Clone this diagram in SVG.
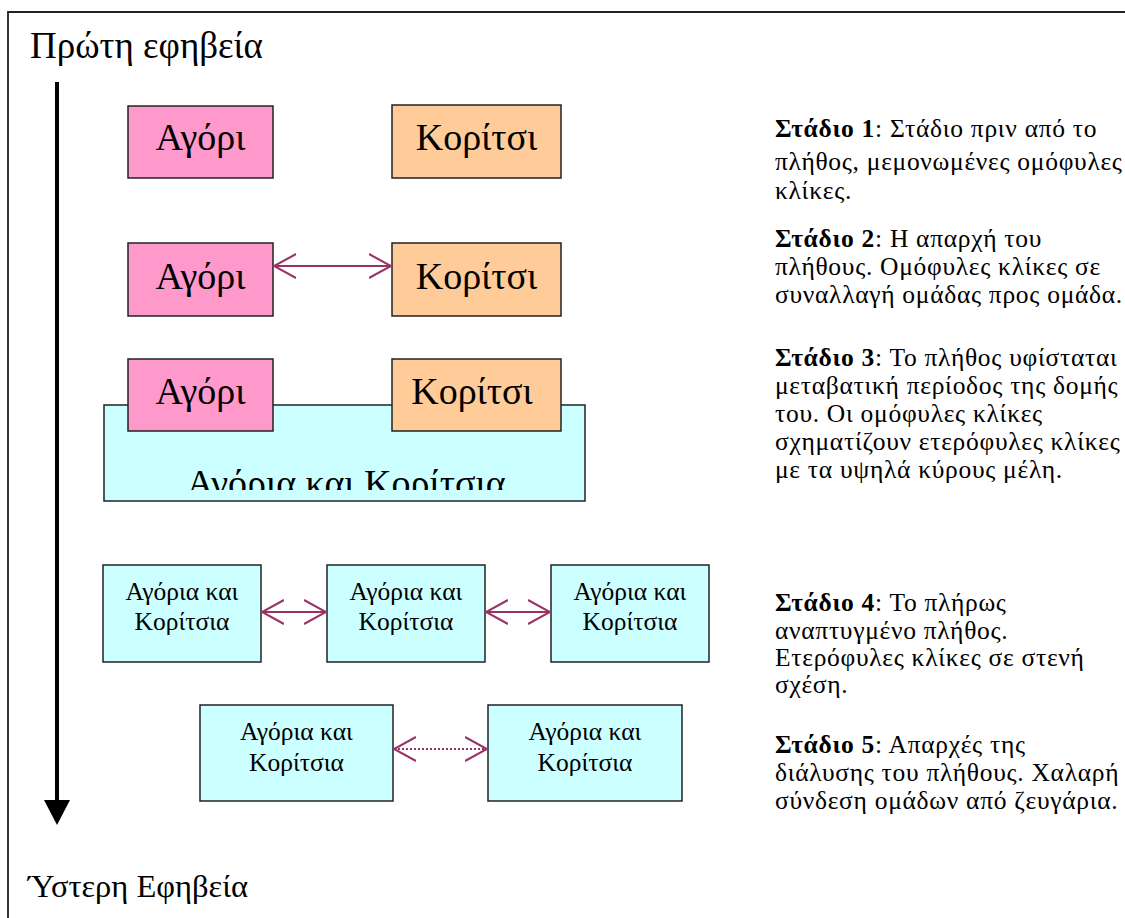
<svg xmlns="http://www.w3.org/2000/svg" width="1125" height="918" viewBox="0 0 1125 918">
<style>
  text { font-family: "Liberation Serif", "Times New Roman", serif; fill: #000; }
  .big { font-size: 38px; }
  .mid { font-size: 25.5px; }
  .desc { font-size: 25.5px; letter-spacing: 0.7px; }
  .b { font-weight: bold; }
  .box { stroke: #222; stroke-width: 1.5; }
  .boy { fill: #FF99CC; }
  .girl { fill: #FFCC99; }
  .mix { fill: #CCFFFF; }
  .conn { stroke: #993366; stroke-width: 2; fill: none; }
</style>
<defs>
  <marker id="chev" viewBox="0 0 24 26" refX="22" refY="13" markerWidth="24" markerHeight="26" markerUnits="userSpaceOnUse" orient="auto-start-reverse">
    <path d="M0,1 L22,13 L0,25" fill="none" stroke="#993366" stroke-width="2"/>
  </marker>
  <clipPath id="clip3"><rect x="104" y="405" width="481" height="85"/></clipPath>
</defs>
<rect x="0" y="0" width="1125" height="918" fill="#fff"/>
<g id="frame">
  <path d="M8,918 L8,12 L1125,12" fill="none" stroke="#222" stroke-width="1.8"/>
</g>
<g id="title-top"><text x="30" y="58" style="font-size:37px">Πρώτη εφηβεία</text></g>
<g id="title-bottom"><text x="28" y="897" style="font-size:32.5px">Ύστερη Εφηβεία</text></g>
<g id="timeline">
  <line x1="57" y1="82" x2="57" y2="801" stroke="#000" stroke-width="4"/>
  <polygon points="44,800 70,800 57,825" fill="#000"/>
</g>

<g id="s1-boy"><rect class="box boy" x="128" y="106" width="145" height="72"/><text class="big" x="200.5" y="150" text-anchor="middle">Αγόρι</text></g>
<g id="s1-girl"><rect class="box girl" x="392" y="105" width="169" height="73"/><text class="big" x="476.5" y="150" text-anchor="middle">Κορίτσι</text></g>

<g id="s2-boy"><rect class="box boy" x="128" y="243" width="145" height="73"/><text class="big" x="200.5" y="289" text-anchor="middle">Αγόρι</text></g>
<g id="s2-girl"><rect class="box girl" x="392" y="243" width="169" height="73"/><text class="big" x="476.5" y="289" text-anchor="middle">Κορίτσι</text></g>

<g id="s3-group"><rect class="box mix" x="104" y="405" width="481" height="96"/><text class="big" x="346" y="496" text-anchor="middle" clip-path="url(#clip3)">Αγόρια και Κορίτσια</text></g>
<g id="s3-boy"><rect class="box boy" x="128" y="359" width="145" height="72"/><text class="big" x="200.5" y="404" text-anchor="middle">Αγόρι</text></g>
<g id="s3-girl"><rect class="box girl" x="392" y="359" width="169" height="72"/><text class="big" x="472" y="404" text-anchor="middle">Κορίτσι</text></g>

<g id="s4-a"><rect class="box mix" x="103" y="565" width="158" height="97"/><text class="mid" x="182" y="600" text-anchor="middle">Αγόρια και</text><text class="mid" x="182" y="630" text-anchor="middle">Κορίτσια</text></g>
<g id="s4-b"><rect class="box mix" x="327" y="565" width="158" height="97"/><text class="mid" x="406" y="600" text-anchor="middle">Αγόρια και</text><text class="mid" x="406" y="630" text-anchor="middle">Κορίτσια</text></g>
<g id="s4-c"><rect class="box mix" x="551" y="565" width="158" height="97"/><text class="mid" x="630" y="600" text-anchor="middle">Αγόρια και</text><text class="mid" x="630" y="630" text-anchor="middle">Κορίτσια</text></g>

<g id="s5-a"><rect class="box mix" x="200" y="705" width="193" height="96"/><text class="mid" x="296.5" y="740" text-anchor="middle">Αγόρια και</text><text class="mid" x="296.5" y="771" text-anchor="middle">Κορίτσια</text></g>
<g id="s5-b"><rect class="box mix" x="488" y="705" width="194" height="96"/><text class="mid" x="585" y="740" text-anchor="middle">Αγόρια και</text><text class="mid" x="585" y="771" text-anchor="middle">Κορίτσια</text></g>

<g id="connectors">
  <line class="conn" x1="274" y1="266" x2="391" y2="266" marker-start="url(#chev)" marker-end="url(#chev)"/>
  <line class="conn" x1="262" y1="612" x2="326" y2="612" marker-start="url(#chev)" marker-end="url(#chev)"/>
  <line class="conn" x1="486" y1="612" x2="550" y2="612" marker-start="url(#chev)" marker-end="url(#chev)"/>
  <line class="conn" x1="394" y1="749" x2="487" y2="749" stroke-dasharray="2,2" marker-start="url(#chev)" marker-end="url(#chev)"/>
</g>

<g id="stage-notes">
  <text class="desc" x="775" y="137"><tspan class="b">Στάδιο 1</tspan>: Στάδιο πριν από το</text>
  <text class="desc" x="775" y="170">πλήθος, μεμονωμένες ομόφυλες</text>
  <text class="desc" x="775" y="199">κλίκες.</text>

  <text class="desc" x="775" y="247"><tspan class="b">Στάδιο 2</tspan>: Η απαρχή του</text>
  <text class="desc" x="775" y="275">πλήθους. Ομόφυλες κλίκες σε</text>
  <text class="desc" x="775" y="303">συναλλαγή ομάδας προς ομάδα.</text>

  <text class="desc" x="775" y="366"><tspan class="b">Στάδιο 3</tspan>: Το πλήθος υφίσταται</text>
  <text class="desc" x="775" y="394">μεταβατική περίοδος της δομής</text>
  <text class="desc" x="775" y="422">του. Οι ομόφυλες κλίκες</text>
  <text class="desc" x="775" y="450">σχηματίζουν ετερόφυλες κλίκες</text>
  <text class="desc" x="775" y="478">με τα υψηλά κύρους μέλη.</text>

  <text class="desc" x="775" y="611"><tspan class="b">Στάδιο 4</tspan>: Το πλήρως</text>
  <text class="desc" x="775" y="639">αναπτυγμένο πλήθος.</text>
  <text class="desc" x="775" y="666">Ετερόφυλες κλίκες σε στενή</text>
  <text class="desc" x="775" y="693">σχέση.</text>

  <text class="desc" x="775" y="753"><tspan class="b">Στάδιο 5</tspan>: Απαρχές της</text>
  <text class="desc" x="775" y="781">διάλυσης του πλήθους. Χαλαρή</text>
  <text class="desc" x="775" y="809">σύνδεση ομάδων από ζευγάρια.</text>
</g>
</svg>
